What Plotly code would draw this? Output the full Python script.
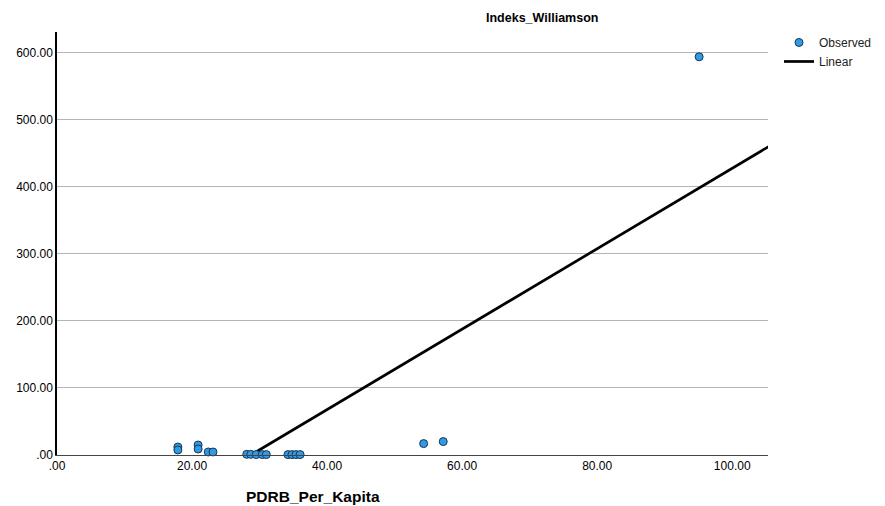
import plotly.graph_objects as go

pdrb = [17.9, 17.9, 20.9, 20.9, 22.4, 23.1, 28.1, 28.7, 29.5, 30.4, 31.0,
        34.2, 34.8, 35.4, 36.0, 54.3, 57.2, 95.1]
williamson = [11.9, 7.5, 14.9, 9.0, 4.5, 4.5, 1.0, 1.0, 0.6, 0.6, 0.6,
              0.6, 0.6, 0.6, 0.6, 17.0, 20.0, 594.0]
fit_intercept = -172.3
fit_slope = 6.0
line_x = [0, 108]
line_y = [fit_intercept + fit_slope * x for x in line_x]

x_ticks = [0, 20, 40, 60, 80, 100]
x_labels = [".00", "20.00", "40.00", "60.00", "80.00", "100.00"]
y_ticks = [0, 100, 200, 300, 400, 500, 600]
y_labels = [".00", "100.00", "200.00", "300.00", "400.00", "500.00", "600.00"]

font = "Liberation Sans, Arial, sans-serif"

fig = go.Figure()
fig.add_trace(go.Scatter(
    x=line_x, y=line_y, mode="lines", name="Linear",
    line=dict(color="black", width=2.7), showlegend=True))
fig.add_trace(go.Scatter(
    x=pdrb, y=williamson, mode="markers", name="Observed",
    marker=dict(size=8, color="#2f9be6", line=dict(color="#1b3550", width=1)),
    cliponaxis=False))

fig.update_layout(
    width=885, height=506,
    margin=dict(l=49, r=125, t=24, b=59),
    paper_bgcolor="white", plot_bgcolor="white",
    font=dict(family=font, size=12, color="black"),
    showlegend=True,
    legend=dict(x=1.0155, y=1.0095, xanchor="left", yanchor="top",
                traceorder="reversed", itemwidth=30,
                font=dict(size=12, color="#222"),
                tracegroupgap=0, bgcolor="rgba(0,0,0,0)"),
    xaxis=dict(range=[0, 105.3], tickvals=x_ticks, ticktext=x_labels,
               showgrid=False, zeroline=False, showline=True,
               linecolor="#444", linewidth=1, ticks="", ticklen=0,
               tickfont=dict(size=12), automargin=False),
    yaxis=dict(range=[0, 631], tickvals=y_ticks, ticktext=y_labels,
               showgrid=True, gridcolor="#b4b4b4", gridwidth=1,
               zeroline=False, showline=True, linecolor="black", linewidth=1.5,
               ticks="", tickfont=dict(size=12), automargin=False),
    annotations=[
        dict(text="<b>Indeks_Williamson</b>", x=0.682, y=1.033,
             xref="paper", yref="paper", showarrow=False,
             xanchor="center", yanchor="middle", font=dict(size=12.5)),
        dict(text="<b>PDRB_Per_Kapita</b>", x=0.36, y=-0.099,
             xref="paper", yref="paper", showarrow=False,
             xanchor="center", yanchor="middle", font=dict(size=15.5)),
    ],
)

fig.write_html("out.html")
